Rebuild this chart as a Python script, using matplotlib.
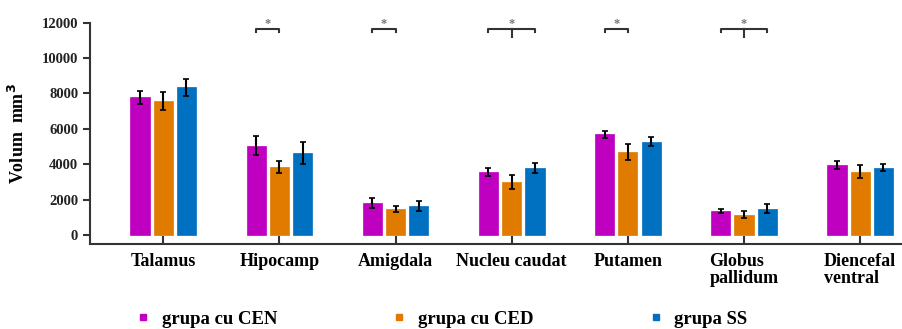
import matplotlib
import matplotlib.pyplot as plt
import numpy as np
from matplotlib.lines import Line2D

matplotlib.use("Agg")

REGIONS = ["Talamus", "Hipocamp", "Amigdala", "Nucleu caudat", "Putamen",
           "Globus\npallidum", "Diencefal\nventral"]
GROUPS = ["grupa cu CEN", "grupa cu CED", "grupa SS"]
COLORS = ["#C000C0", "#E07B00", "#0070C0"]

cen_mean = [7780, 5050, 1800, 3570, 5700, 1350, 3950]
cen_err = [360, 520, 300, 225, 200, 120, 220]
ced_mean = [7570, 3850, 1490, 3000, 4690, 1130, 3580]
ced_err = [520, 330, 170, 380, 470, 200, 360]
ss_mean = [8340, 4620, 1650, 3790, 5280, 1480, 3810]
ss_err = [500, 630, 280, 280, 270, 260, 220]

# significance brackets: (region index, first group, last group)
SIG = [(1, 0, 1), (2, 0, 1), (3, 0, 2), (4, 0, 1), (5, 0, 2)]

plt.rcParams["font.family"] = ["Liberation Serif", "DejaVu Serif"]
plt.rcParams["font.weight"] = "bold"

fig = plt.figure(figsize=(9.02, 3.29), dpi=100)
ax = fig.add_axes([0.0998, 0.257, 0.9002, 0.674])

x = np.arange(len(REGIONS))
width = 0.165
step = 0.2
means = [cen_mean, ced_mean, ss_mean]
errs = [cen_err, ced_err, ss_err]
for i, (m, e, c) in enumerate(zip(means, errs, COLORS)):
    ax.bar(x + (i - 1) * step, m, width, color=c, edgecolor=c, linewidth=0.5)
    ax.errorbar(x + (i - 1) * step, m, yerr=e, fmt="none", ecolor="black",
                elinewidth=1.5, capsize=2.5, capthick=1.2)

y_br, y_tip = 11650, 11450
for reg, g0, g1 in SIG:
    x0 = reg + (g0 - 1) * step
    x1 = reg + (g1 - 1) * step
    ax.plot([x0, x0, x1, x1], [y_tip, y_br, y_br, y_tip], color="#333333", lw=1.5)
    if g1 - g0 == 2:
        xm = (x0 + x1) / 2
        ax.plot([xm, xm], [y_br, y_br - 450], color="#333333", lw=1.5)
    ax.text((x0 + x1) / 2, y_br - 60, "*", ha="center", va="bottom",
            color="#777777", fontsize=9)

ax.set_xlim(-0.63, 6.36)
ax.set_ylim(-540, 12000)
ax.set_yticks(np.arange(0, 12001, 2000))
ax.set_xticks(x)
ax.set_xticklabels(REGIONS, fontsize=13, fontweight="bold", multialignment="left",
                   linespacing=1.0)
ax.tick_params(axis="x", direction="in", length=6, width=1.5, color="#333333", pad=6)
ax.tick_params(axis="y", direction="out", length=5, width=1.5, color="#333333",
               labelsize=10.5, labelcolor="#222222")
for lab in ax.get_yticklabels():
    lab.set_fontweight("bold")

for s in ["top", "right"]:
    ax.spines[s].set_visible(False)
for s in ["left", "bottom"]:
    ax.spines[s].set_color("#333333")
    ax.spines[s].set_linewidth(1.5)

ax.set_ylabel("Volum  mm$^\\mathbf{3}$", fontsize=13, fontweight="bold", labelpad=10)

handles = [Line2D([], [], marker="s", linestyle="none", markersize=5,
                  color=c) for c in COLORS]
fig.legend(handles, GROUPS, loc="lower left", bbox_to_anchor=(0.134, -0.048),
           ncol=3, frameon=False, handlelength=0.6, handletextpad=0.7,
           columnspacing=6.2, prop={"weight": "bold", "size": 13.5})

fig.savefig("out.png", dpi=100)
